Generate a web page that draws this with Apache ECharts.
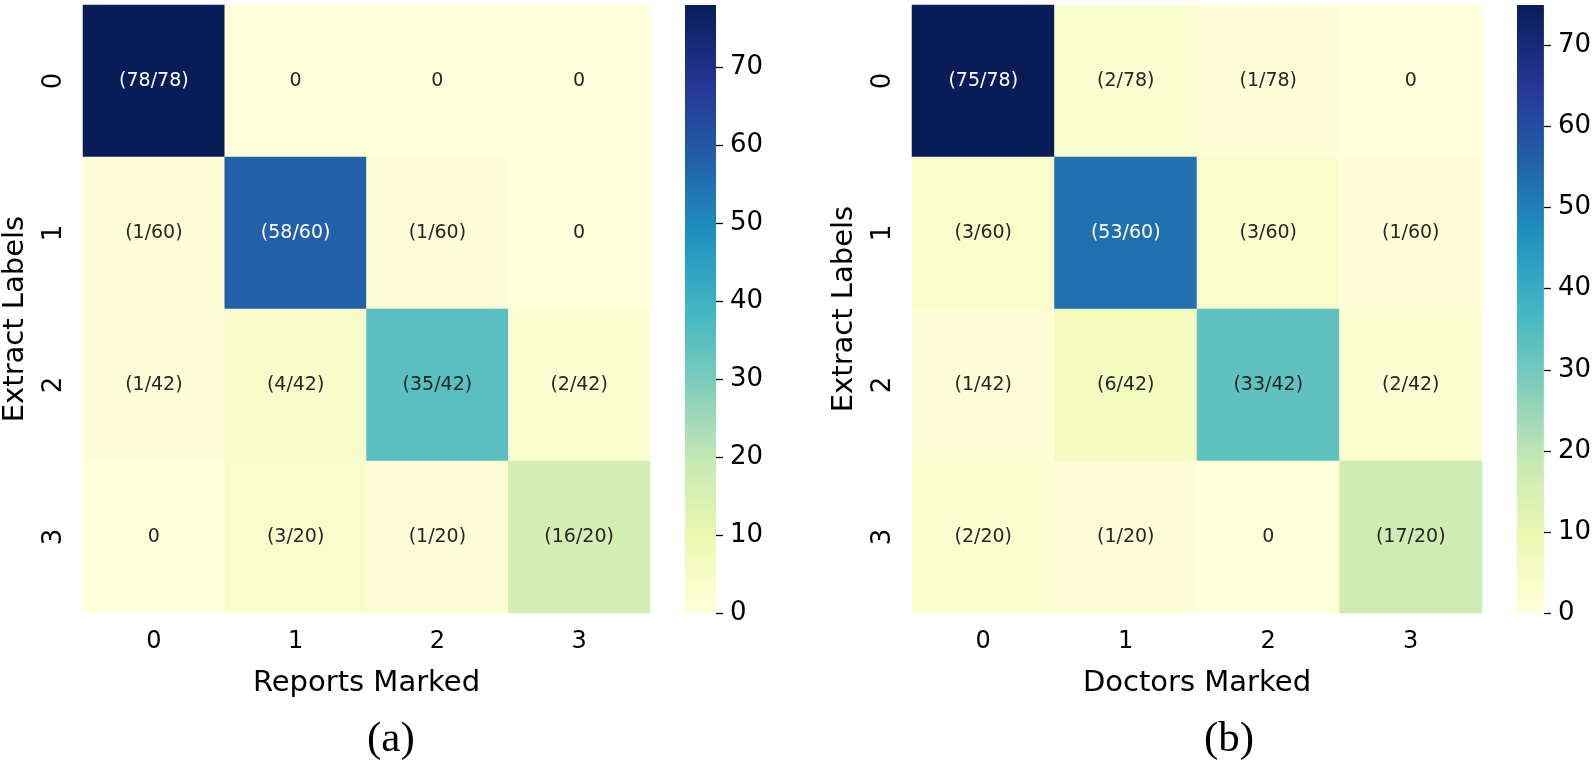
<!DOCTYPE html>
<html>
<head>
<meta charset="utf-8">
<script src="https://cdn.jsdelivr.net/npm/echarts@6/dist/echarts.min.js"></script>
<style>
html,body{margin:0;padding:0;background:#fff;}
#chart{width:1594px;height:760px;}
</style>
</head>
<body>
<div id="chart"></div>
<script>
// ---- data ----
const xCategories = ['0', '1', '2', '3'];
const yCategories = ['0', '1', '2', '3'];
const reportsMatrix = [
  [78, 0, 0, 0],
  [1, 58, 1, 0],
  [1, 4, 35, 2],
  [0, 3, 1, 16]
];
const doctorsMatrix = [
  [75, 2, 1, 0],
  [3, 53, 3, 1],
  [1, 6, 33, 2],
  [2, 1, 0, 17]
];
const colorbarTicks = [0, 10, 20, 30, 40, 50, 60, 70];
const xTitles = ['Reports Marked', 'Doctors Marked'];
const yTitle = 'Extract Labels';
const panelCaptions = ['(a)', '(b)'];

// ---- styling ----
const FONT = 'DejaVu Sans';
const YLGNBU = ['#ffffd9', '#edf8b1', '#c7e9b4', '#7fcdbb', '#41b6c4', '#1d91c0', '#225ea8', '#253494', '#081d58'];

function heatData(m) {
  const out = [];
  const totals = m.map(r => r.reduce((a, b) => a + b, 0));
  const vmax = Math.max(...m.flat());
  m.forEach((row, yi) => row.forEach((v, xi) => {
    out.push({
      value: [xi, yi, v],
      label: { color: v / vmax > 0.6 ? '#ffffff' : '#262626' },
      total: totals[yi]
    });
  }));
  return out;
}

const matrices = [reportsMatrix, doctorsMatrix];
const vmaxes = matrices.map(m => Math.max(...m.flat()));

const gridDefs = [
  { left: 81, top: 5, width: 569, height: 608 },
  { left: 912, top: 5, width: 570, height: 608 },
  { left: 685, top: 5, width: 31, height: 608 },
  { left: 1517, top: 5, width: 31, height: 608 }
];

const xAxes = [], yAxes = [], series = [], visualMaps = [];
[0, 1].forEach(i => {
  xAxes.push({
    type: 'category', gridIndex: i, data: xCategories, position: 'bottom',
    axisLine: { show: false }, axisTick: { show: false }, splitLine: { show: false },
    axisLabel: { fontFamily: FONT, fontSize: 24, color: '#000', margin: 17 },
    name: xTitles[i], nameLocation: 'middle', nameGap: 56,
    nameTextStyle: { fontFamily: FONT, fontSize: 29, color: '#000' }
  });
  yAxes.push({
    type: 'category', gridIndex: i, data: yCategories, inverse: true,
    axisLine: { show: false }, axisTick: { show: false }, splitLine: { show: false },
    axisLabel: { fontFamily: FONT, fontSize: 26, color: '#000', rotate: 90, margin: 16 },
    name: yTitle, nameLocation: 'middle', nameGap: 53, nameRotate: 90,
    nameTextStyle: { fontFamily: FONT, fontSize: 29, color: '#000',
      padding: i === 0 ? [0, 20, 0, 0] : [0, 0, 0, 0] }
  });
  series.push({
    type: 'heatmap', xAxisIndex: i, yAxisIndex: i,
    data: heatData(matrices[i]),
    label: {
      show: true, fontFamily: FONT, fontSize: 19,
      formatter: p => p.value[2] === 0 ? '0' : '(' + p.value[2] + '/' + p.data.total + ')'
    },
    itemStyle: { borderWidth: 0 },
    emphasis: { disabled: true }
  });
  visualMaps.push({
    type: 'continuous', show: false, seriesIndex: i, dimension: 2,
    min: 0, max: vmaxes[i], inRange: { color: YLGNBU }
  });
});

// colorbars
[0, 1].forEach(i => {
  const g = 2 + i;
  xAxes.push({ type: 'category', gridIndex: g, data: ['cb'], show: false });
  yAxes.push({
    type: 'value', gridIndex: g, position: 'right', min: 0, max: vmaxes[i],
    axisLine: { show: false }, splitLine: { show: false },
    axisTick: { show: true, length: 7, customValues: colorbarTicks, lineStyle: { color: '#000', width: 1.3 } },
    axisLabel: { show: true, customValues: colorbarTicks, fontFamily: FONT, fontSize: 26, color: '#000', margin: 14 }
  });
  series.push({
    type: 'bar', xAxisIndex: g, yAxisIndex: g, data: [vmaxes[i]], barWidth: '100%',
    itemStyle: {
      color: {
        type: 'linear', x: 0, y: 1, x2: 0, y2: 0,
        colorStops: YLGNBU.map((c, k) => ({ offset: k / (YLGNBU.length - 1), color: c }))
      }
    },
    emphasis: { disabled: true }, silent: true
  });
});

const chart = echarts.init(document.getElementById('chart'), null, { renderer: 'canvas' });
chart.setOption({
  backgroundColor: '#ffffff',
  animation: false,
  grid: gridDefs,
  xAxis: xAxes,
  yAxis: yAxes,
  visualMap: visualMaps,
  series: series,
  graphic: [
    { type: 'text', left: 389 - 22, top: 718, style: { text: panelCaptions[0], font: '43px "Liberation Serif"', fill: '#000' } },
    { type: 'text', left: 1227 - 23, top: 718, style: { text: panelCaptions[1], font: '43px "Liberation Serif"', fill: '#000' } }
  ]
});
</script>
</body>
</html>
